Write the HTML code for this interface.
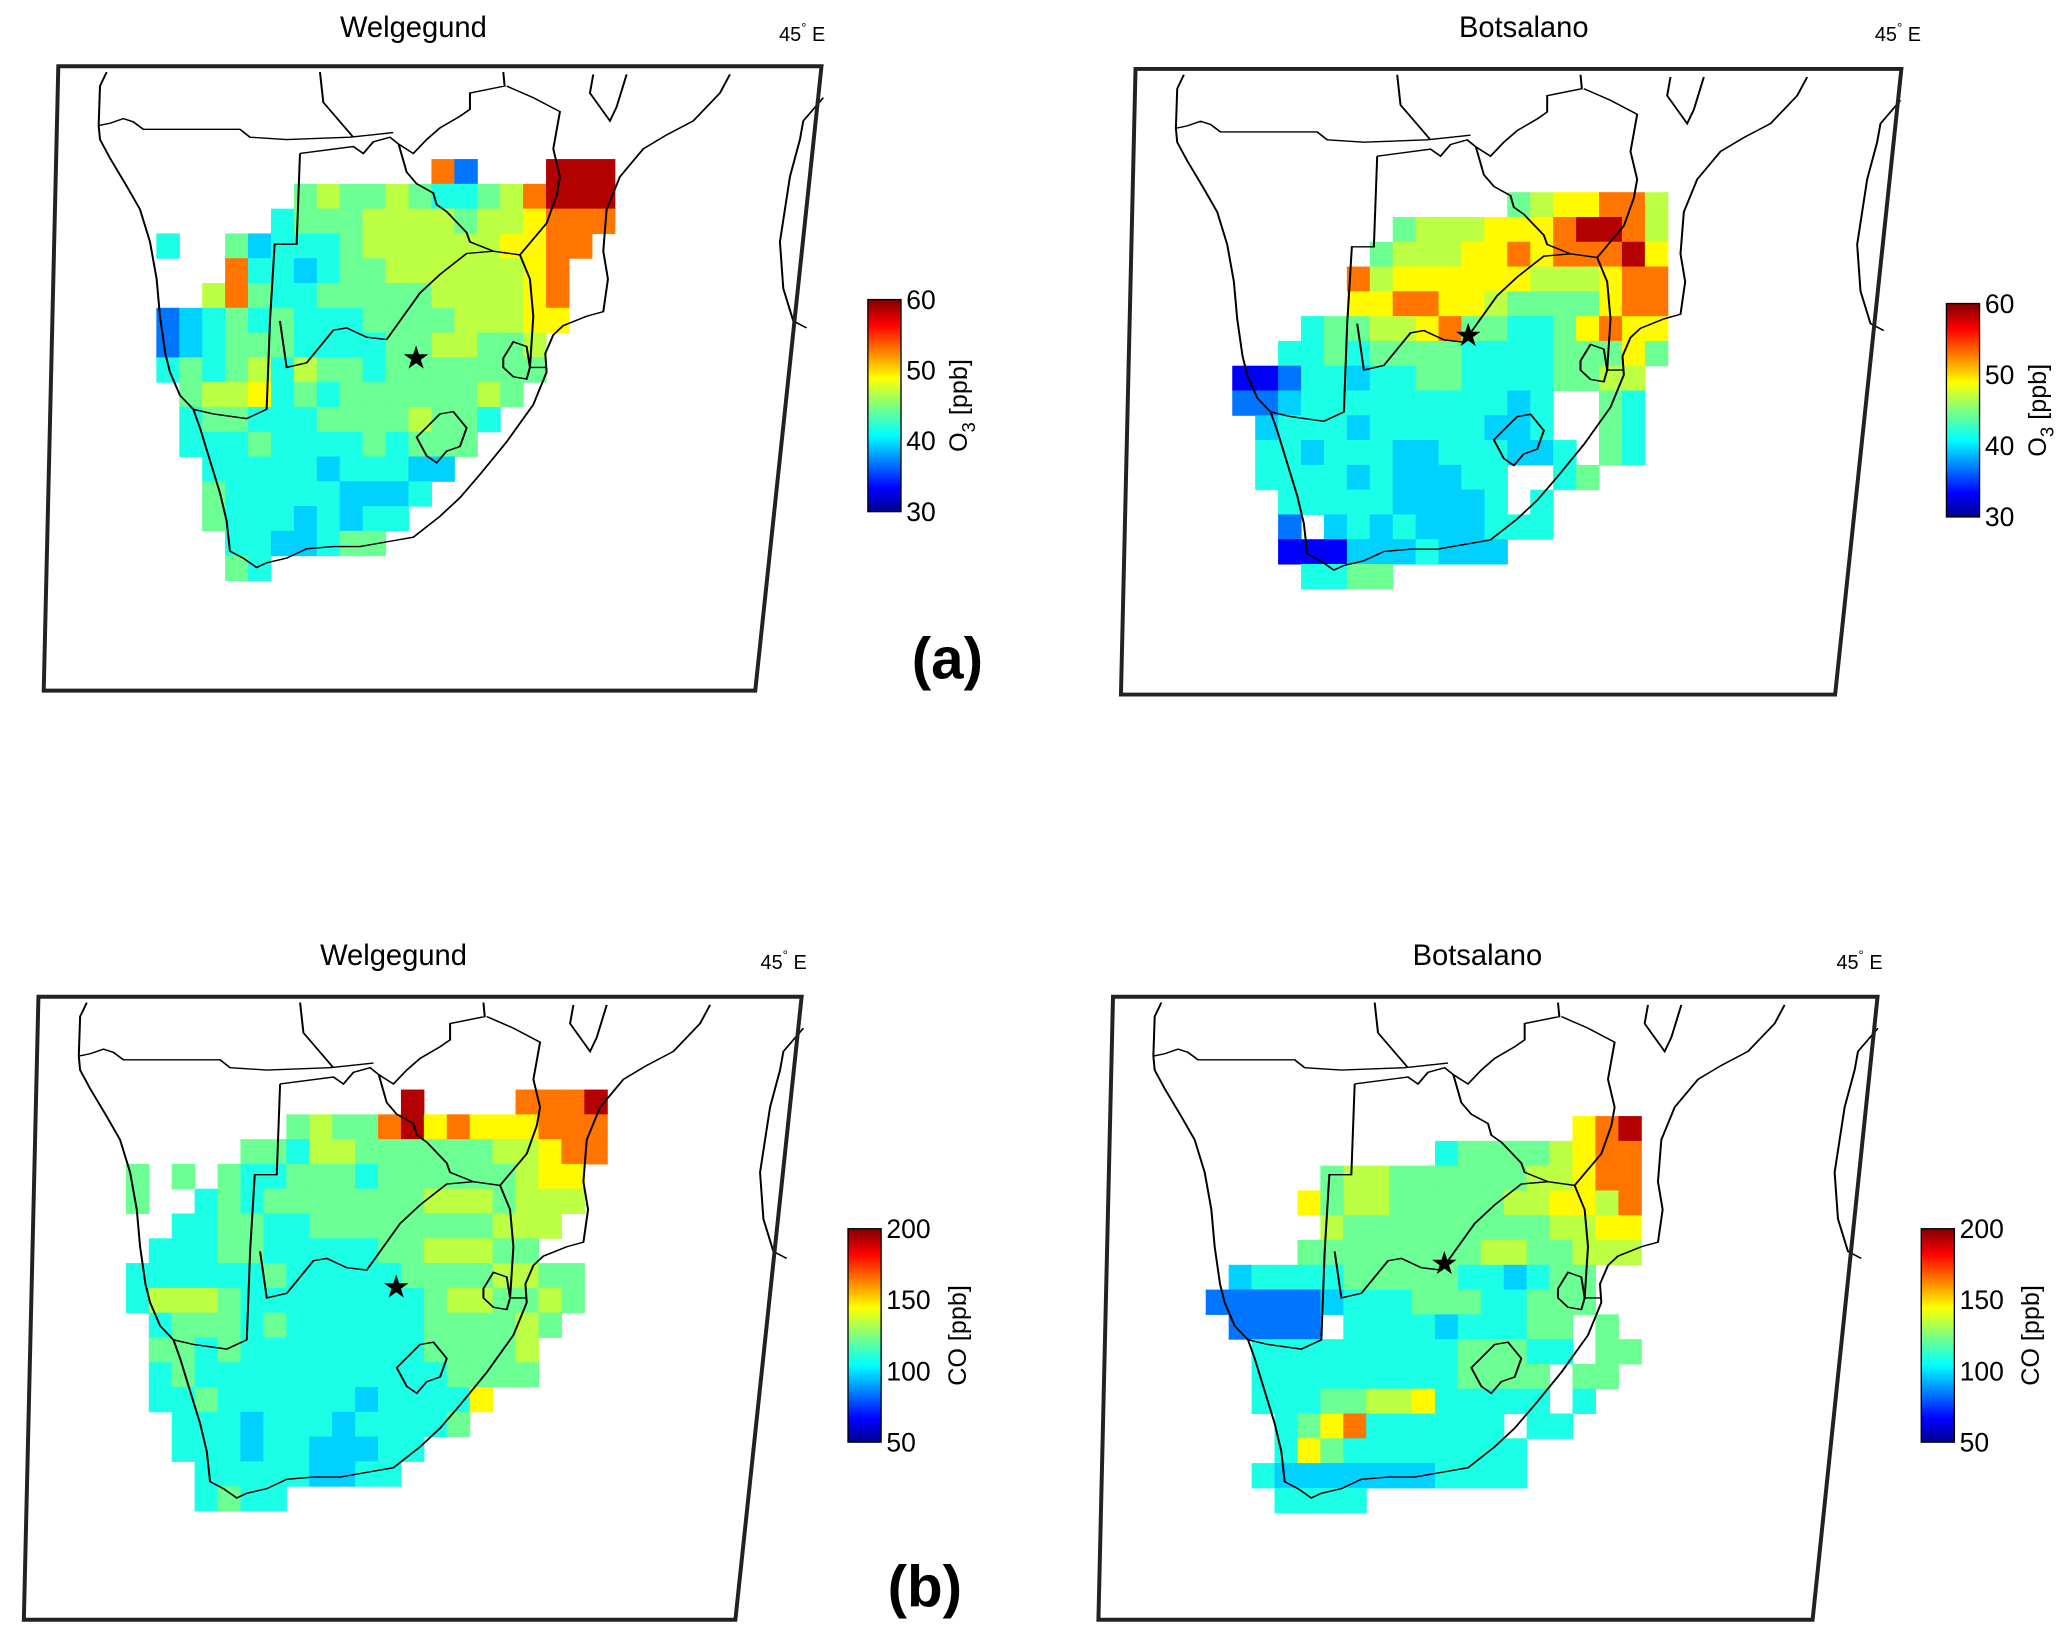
<!DOCTYPE html>
<html><head><meta charset="utf-8"><style>
html,body{margin:0;padding:0;background:#fff;}
svg{display:block;font-family:"Liberation Sans",Arial,sans-serif;}
</style></head><body>
<svg id="fig" width="2067" height="1637" viewBox="0 0 1560 1235" preserveAspectRatio="none" xmlns="http://www.w3.org/2000/svg">
<defs>
<linearGradient id="jet" x1="0" y1="1" x2="0" y2="0">
<stop offset="0" stop-color="#00008f"/><stop offset="0.11" stop-color="#0000ff"/><stop offset="0.36" stop-color="#00ffff"/><stop offset="0.5" stop-color="#7fff7f"/><stop offset="0.63" stop-color="#ffff00"/><stop offset="0.88" stop-color="#ff0000"/><stop offset="1" stop-color="#800000"/>
</linearGradient>
<g id="coast">
<path fill="none" stroke="#000" stroke-width="3" d="M160,155 L150,185 L148,270 L150,300 L165,340 L190,400 L210,450 L225,520 L235,600 L240,680 L248,760 L255,800 L270,850 L290,880 L300,920 L315,990 L330,1060 L340,1120 L345,1185 L365,1200 L385,1220 L400,1210 L430,1200 L460,1180 L500,1175 L540,1175 L580,1165 L620,1155 L660,1110 L690,1070 L720,1020 L760,950 L800,870 L820,800 L818,760 L830,720 L845,700 L880,680 L905,670 L912,600 L905,540 L910,450 L930,380 L965,320 L1000,290 L1040,260 L1080,200 L1095,160"/>
<path fill="none" stroke="#000" stroke-width="3" d="M148,270 L165,265 L185,255 L200,262 L215,278 L360,278 L375,295 L430,300 L525,295 L590,285 M480,155 L485,220 L530,295 M450,330 L530,315 L545,330 L560,305 L585,295 L598,310 L620,330 L640,300 L660,275 L690,250 L705,235 L705,200 L757,185 L755,155 M450,330 L445,525 L412,525 L405,690 L400,880 L370,900 L320,890 L290,880 M420,690 L430,790 L460,780 L500,710 L520,705 L550,725 L580,730 L600,690 L630,630 L660,590 L700,545 L740,540 L780,548 L795,600 L800,680 L795,790 L820,790 M598,310 L610,370 L625,395 L650,415 L655,440 L670,455 L700,500 L705,520 L740,540 M780,548 L820,480 L835,420 L840,380 L830,320 L840,240 L800,210 L760,185"/>
<path fill="none" stroke="#000" stroke-width="3" d="M625,940 L660,890 L680,885 L700,920 L690,960 L670,970 L655,995 L640,980 Z M755,770 L770,735 L790,745 L795,790 L790,815 L770,810 L755,790 Z M890,160 L885,200 L915,260 L925,230 L940,160 M1235,210 L1205,260 L1200,300 L1185,380 L1170,520 L1175,620 L1190,690 L1210,705"/>
</g>
</defs>
<g id="panels"></g>
<text x="715" y="512" font-size="44" font-weight="bold" text-anchor="middle">(a)</text>
<text x="698" y="1212" font-size="44" font-weight="bold" text-anchor="middle">(b)</text>
</svg>
<script>
// ---- data: grid rows (digit = level 0..9 on the colour scale, '.' = no data) ----
const gridA1 = [
"............82...999",
"......56556544568999",
".....455566665667888",
"4..5344456666667788.",
"...844345566666678..",
"..6854455555666678..",
"234545444555566677..",
"23455544445566556...",
"45456465545555555...",
".566745455555565....",
".45544455556554.....",
".4445444454555......",
"..44444344433.......",
"..5444443334........",
"..544434344.........",
"...4433455..........",
"...54..............."];
const gridA2 = [
"............5677886",
".......566677789986",
"......5666778788897",
".....86777777666788",
".....77887765555788",
"...4556678554457877",
"..44545555444455575",
"112443445544445566.",
"22344444444434..54.",
".3444344444334..54.",
".44344433444334.54.",
".44443433344..45...",
"..4444433334.4.....",
"..2.3434333444.....",
"..1113334333.......",
"...4455............"];
const gridB1 = [
"............9....8889",
".......56558978777888",
".....5546655555566788",
"5.5.5445554555555677.",
"5..45455555556665666.",
"..44554455555555666..",
".44455444445566655...",
"44444454444455556655.",
"46665444444445665565.",
".455545444444555565..",
".55454444444455556...",
".45444444444445555...",
".445444444344447.....",
"..4443444344445......",
"..44434433344........",
"...444443344.........",
"...4544.............."];
const gridB2 = [
"................789",
"..........455556788",
".....56655555566788",
"....756655555667768",
".....65555555556677",
"....555555556655666",
".3444455555443455..",
"22222344455544555..",
".2222.4444344455.5.",
"..44444444455544.55",
"..4444444445555.55.",
"..4445566744444.4..",
"...4578444444.44...",
"...47544444444.....",
"..433333334444.....",
"...4444............"];
// colour-scale fraction for each level digit
const levelFrac = [0.0,0.12,0.24,0.33,0.40,0.48,0.56,0.63,0.76,0.95];
const o3Ticks = ["60","50","40","30"];
const coTicks = ["200","150","100","50"];
const stationNames = ["Welgegund","Botsalano","Welgegund","Botsalano"];
// ---------------------------------------------------------------------
const NS="http://www.w3.org/2000/svg";
function jet(t){t=Math.max(0,Math.min(1,t));
 const r=Math.max(0,Math.min(1,Math.min(4*t-1.5,-4*t+4.5)));
 const g=Math.max(0,Math.min(1,Math.min(4*t-0.5,-4*t+3.5)));
 const b=Math.max(0,Math.min(1,Math.min(4*t+0.5,-4*t+2.5)));
 return "rgb("+Math.round(r*255)+","+Math.round(g*255)+","+Math.round(b*255)+")";}
function mk(tag,attrs,parent){const e=document.createElementNS(NS,tag);for(const k in attrs)e.setAttribute(k,attrs[k]);parent.appendChild(e);return e;}
const root=document.getElementById("panels");
const panels=[
 {grid:gridA1,x0:118,y0:120,cw:17.3,ch:18.7,frame:"44,50 620,50 570,521 33,521",off:[0,0],title:[312,28],deg:[588,31],cb:[655,226,25,160],ticks:o3Ticks,unit:"o3",star:[314,270]},
 {grid:gridA2,x0:930,y0:145,cw:17.3,ch:18.7,frame:"857,52 1435,52 1385,524 846,524",off:[813,2],title:[1150,28],deg:[1415,31],cb:[1469,229,25,161],ticks:o3Ticks,unit:"o3",star:[1108,253]},
 {grid:gridB1,x0:95,y0:822,cw:17.3,ch:18.7,frame:"29,752 605,752 555,1222 18,1222",off:[-15,702],title:[297,728],deg:[574,731],cb:[640,927,25,161],ticks:coTicks,unit:"co",star:[299,971]},
 {grid:gridB2,x0:910,y0:842,cw:17.3,ch:18.7,frame:"840,752 1417,752 1368,1222 829,1222",off:[796,702],title:[1115,728],deg:[1386,731],cb:[1450,927,25,161],ticks:coTicks,unit:"co",star:[1090,953]}
];
panels.forEach((p,i)=>{
 const g=mk("g",{},root);
 
 
 p.grid.forEach((row,r)=>{for(let c=0;c<row.length;c++){const ch=row[c];if(ch==='.')continue;
  const v=levelFrac[parseInt(ch,10)];
  const cell=mk("rect",{x:p.x0+c*p.cw,y:p.y0+r*p.ch,width:p.cw+0.4,height:p.ch+0.4,fill:jet(v)},g);
  
  }});
 const u=mk("use",{href:"#coast",transform:"translate("+p.off[0]+","+p.off[1]+") scale(0.5031,0.3509)"},g);
 
 
 const f=mk("polygon",{points:p.frame,fill:"none",stroke:"#222","stroke-width":"3"},g);
 
 
 const s=mk("text",{x:p.star[0],y:p.star[1]+8,"font-size":"24","text-anchor":"middle",fill:"#000"},g);
 s.textContent="★";
 
 
 const t=mk("text",{x:p.title[0],y:p.title[1],"font-size":"22","text-anchor":"middle"},g);
 t.textContent=stationNames[i];
 
 
 const d=mk("text",{x:p.deg[0],y:p.deg[1],"font-size":"15"},g);
 d.innerHTML='45<tspan dy="-7" font-size="10">°</tspan><tspan dy="7"> E</tspan>';
 
 
 const [cx,cy,cw,chh]=p.cb;
 const bar=mk("rect",{x:cx,y:cy,width:cw,height:chh,fill:"url(#jet)",stroke:"#000","stroke-width":"1"},g);
 
 
 p.ticks.forEach((lab,k)=>{const yy=cy+k*chh/(p.ticks.length-1);
  const tl=mk("text",{x:cx+cw+4,y:yy+7,"font-size":"20"},g);
  tl.textContent=lab;
  
  });
 const lx=cx+cw+(p.unit==="o3"?50:64), ly=cy+chh/2;
 const ul=mk("text",{x:lx,y:ly,"font-size":"19","text-anchor":"middle",transform:"rotate(-90 "+lx+" "+ly+")"},g);
 if(p.unit==="o3"){ul.innerHTML='O<tspan dy="6" font-size="14">3</tspan><tspan dy="-6"> [ppb]</tspan>';}
 else{ul.textContent="CO [ppb]";}
 
 
});
</script>
</body></html>
